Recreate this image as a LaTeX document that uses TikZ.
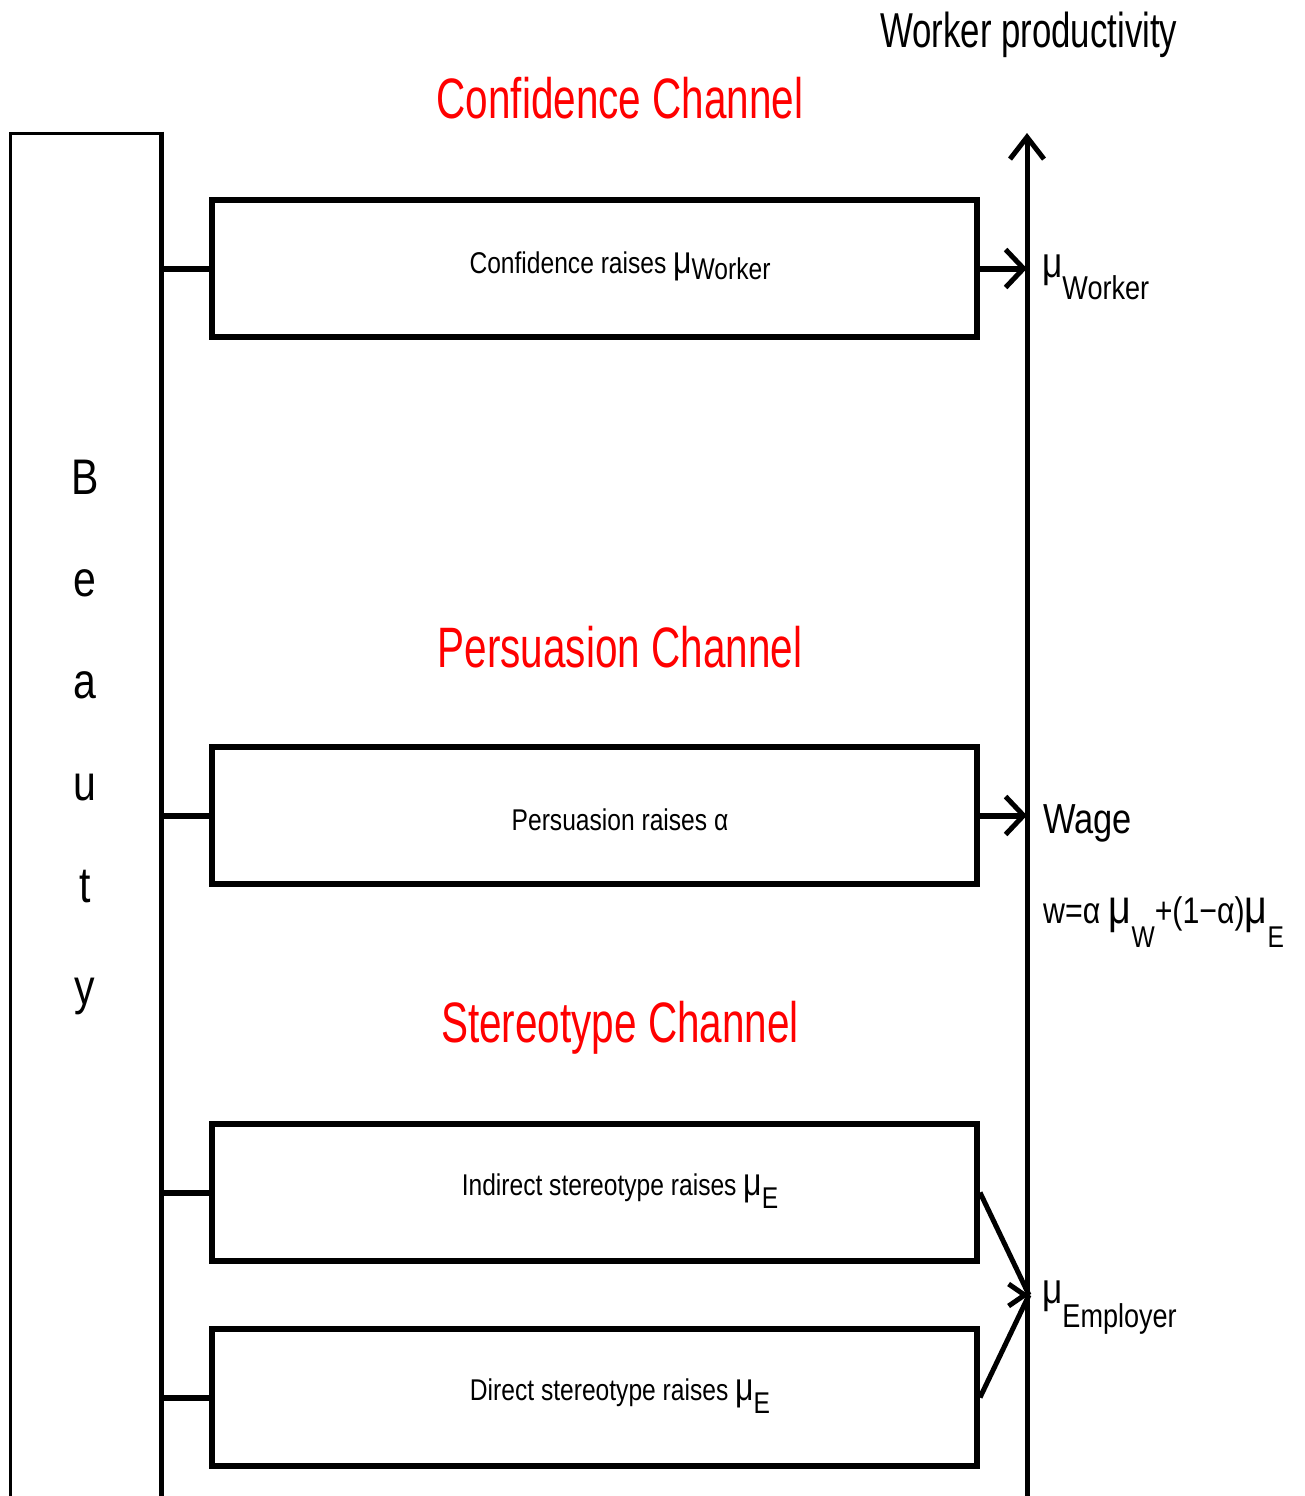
\documentclass[tikz,border=0pt]{standalone}
\usepackage{fontspec}
\usepackage{graphicx}
\setmainfont[FakeStretch=0.82]{Liberation Sans}
\newfontfamily\narrowfont[FakeStretch=0.71]{Liberation Sans}
\usetikzlibrary{arrows.meta}
\newcommand{\fsz}[1]{\fontsize{#1pt}{#1pt}\selectfont}
\newcommand{\lowsub}[2]{\raisebox{-#1pt}{#2}}
\newcommand{\mmu}{\scalebox{1.3}{μ}}
\begin{document}
\begin{tikzpicture}[x=1pt,y=-1pt,
  box/.style={draw, line width=6pt, minimum width=765pt, minimum height=137pt, inner sep=0pt},
  link/.style={line width=6pt},
  arr/.style={line width=6pt, -{Straight Barb[length=18pt,width=38pt,line width=5pt]}},
  title/.style={text=red, font=\narrowfont\fsz{57}, anchor=base, inner sep=0pt},
  boxtext/.style={font=\fsz{30}, anchor=base, inner sep=0pt},
  lbl/.style={anchor=base west, inner sep=0pt},
  letter/.style={font=\fsz{50}, anchor=base, inner sep=0pt}]
\useasboundingbox (0,0) rectangle (1304,1496);

% Beauty frame
\draw[line width=3pt] (10,1496) -- (10,133) -- (161,133);
\draw[line width=5pt] (161,131.5) -- (161,1496);
\coordinate (br) at (161,0);
\foreach \l/\yy [count=\i] in {B/494,e/596,a/698,u/800,t/902,y/1004}
  \node[letter] (L\i) at (85,\yy) {\l};

% axis
\coordinate (axb) at (1027,1496);
\coordinate (axt) at (1027,133);
\draw[line width=5pt, -{Straight Barb[length=22pt,width=34pt,line width=5pt]}] (axb) -- (axt);
\node[lbl, font=\narrowfont\fsz{49}] (wp) at (880,48) {Worker productivity};

% titles
\node[title] (t1) at (620,118) {Confidence Channel};
\node[title] (t2) at (620,667) {Persuasion Channel};
\node[title] (t3) at (620,1042) {Stereotype Channel};

% boxes
\node[box] (b1) at (594.5,268.5) {};
\node[box] (b2) at (594.5,815.5) {};
\node[box] (b3) at (594.5,1192.5) {};
\node[box] (b4) at (594.5,1397.5) {};

\node[boxtext] (x1) at (620,273) {Confidence raises \mmu\lowsub{6}{Worker}};
\node[boxtext] (x2) at (620,830) {Persuasion raises α};
\node[boxtext] (x3) at (620,1195) {Indirect stereotype raises \mmu\lowsub{13}{E}};
\node[boxtext] (x4) at (620,1400) {Direct stereotype raises \mmu\lowsub{13}{E}};

% links from Beauty
\foreach \b in {b1,b2,b3,b4}
  \draw[link] (\b.west -| br) -- (\b.west);

% arrows to axis
\draw[arr] (b1.east) -- (b1.east -| axt);
\draw[arr] (b2.east) -- (b2.east -| axt);
\coordinate (emp) at (1029,1295);
\draw[line width=5pt] (b3.east) -- (emp);
\draw[line width=5pt] (b4.east) -- (emp);
\draw[line width=6pt, -{Straight Barb[length=16pt,width=22pt,line width=5pt]}] (emp) ++(-4,0) -- (emp);

% right labels
\node[lbl, font=\fsz{33}] (muw) at (1042,277) {\mmu\lowsub{22}{Worker}};
\node[lbl, font=\fsz{42}] (wage) at (1043,833) {Wage};
\node[lbl, font=\fsz{37}] (form) at (1043,923) {w=α \mmu\lowsub{24}{\fsz{30}W}+(1−α)\mmu\lowsub{24}{\fsz{30}E}};
\node[lbl, font=\fsz{33}] (mue) at (1042,1303) {\mmu\lowsub{24}{Employer}};
\end{tikzpicture}
\end{document}
